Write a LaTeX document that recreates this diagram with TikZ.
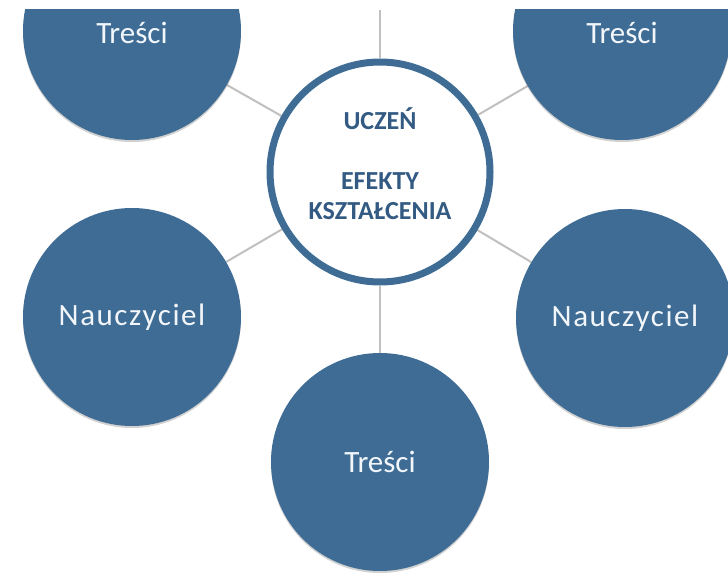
\documentclass[tikz,border=0pt]{standalone}
\usepackage{fontspec}
\setmainfont{Carlito}
\usetikzlibrary{backgrounds,shadows}
\definecolor{circblue}{RGB}{62,108,148}
\definecolor{ctext}{RGB}{50,90,130}
\definecolor{wtext}{RGB}{242,246,250}
\definecolor{linegray}{RGB}{192,192,192}
\tikzset{
  softshadow/.style={drop shadow={shadow xshift=0pt, shadow yshift=-2pt, opacity=0.18, fill=black}},
  outer/.style={circle, fill=circblue, minimum size=218pt, inner sep=0pt,
    text=wtext, font=\fontsize{31}{36}\selectfont, softshadow},
  centre/.style={circle, draw=circblue, line width=7pt, fill=white, minimum size=220pt, inner sep=0pt, softshadow},
  centretext/.style={text=ctext, align=center, font=\bfseries\fontsize{26}{30}\selectfont},
  link/.style={draw=linegray, line width=2pt}
}
\newcommand{\spaced}[1]{{\addfontfeature{LetterSpace=5}#1}}
\newcommand{\lowered}[1]{\raisebox{-2pt}[\height][\depth]{#1}}
\begin{document}
\begin{tikzpicture}[x=1pt,y=-1pt]
\useasboundingbox (0,0) rectangle (728,575);
\begin{scope}[on background layer]
  \fill[white] (0,0) rectangle (728,575);
\end{scope}
\clip (0,10) rectangle (728,575);
\node[centre] (c) at (380,172) {};
\node[outer] (tl) at (132,31) {\lowered{Treści}};
\node[outer] (tr) at (622,31) {\lowered{Treści}};
\node[outer] (ml) at (132,317) {\spaced{Nauczyciel}};
\node[outer] (mr) at (625,318) {\spaced{Nauczyciel}};
\node[outer] (b) at (380,462) {Treści};
\node[centretext] (ct) at (380,164) {UCZEŃ\\[30pt]EFEKTY\\KSZTAŁCENIA};
\coordinate (top) at (380,10);
\begin{scope}[on background layer]
  \draw[link] (top) -- (c);
  \draw[link] (c) -- (tl);
  \draw[link] (c) -- (tr);
  \draw[link] (c) -- (ml);
  \draw[link] (c) -- (mr);
  \draw[link] (c) -- (b);
\end{scope}
\end{tikzpicture}
\end{document}
